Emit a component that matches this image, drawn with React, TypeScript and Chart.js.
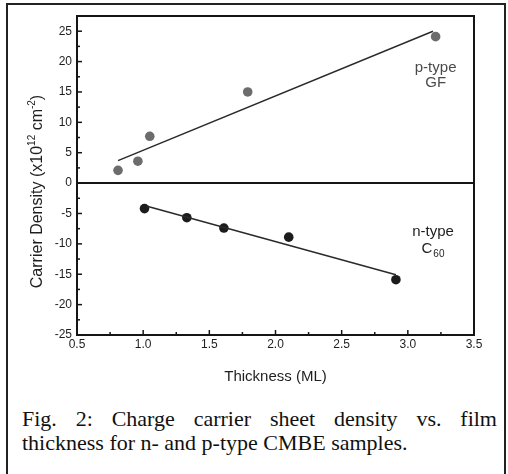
import React, { useEffect, useRef } from "react";
import { Chart, registerables } from "chart.js";

Chart.register(...registerables);

// ---- data ----
const pTypeX = [0.81, 0.96, 1.05, 1.79, 3.21];
const pTypeY = [2.1, 3.6, 7.7, 15.0, 24.1];
const nTypeX = [1.01, 1.33, 1.61, 2.1, 2.91];
const nTypeY = [-4.2, -5.7, -7.4, -8.9, -15.9];
const pFitX = [0.81, 3.19];
const pFitY = [3.7, 25.0];
const nFitX = [1.03, 2.91];
const nFitY = [-3.8, -15.1];

const xMin = 0.5;
const xMax = 3.5;
const xStep = 0.5;
const yMin = -25;
const yMax = 27.5;
const yStep = 5;

const xTitle = "Thickness (ML)";
const yTitleParts = ["Carrier Density (x10", "12", " cm", "-2", ")"];
const pLabel = ["p-type", "GF"];
const nLabel = ["n-type", "C", "60"];
const pLabelX = 3.21;
const pLabelY = [19.0, 16.5];
const nLabelX = 3.19;
const nLabelY = [-8.0, -10.8];

const captionLine1 = "Fig. 2: Charge carrier sheet density vs. film";
const captionLine2 = "thickness for n- and p-type CMBE samples.";

const FONT = "'Liberation Sans', Arial, Helvetica, sans-serif";

const toPts = (xs: number[], ys: number[]) => xs.map((x, i) => ({ x, y: ys[i] }));

const decorPlugin = {
  id: "decor",
  afterDraw(chart: any) {
    const { ctx, chartArea } = chart;
    const xs = chart.scales.x;
    const ys = chart.scales.y;
    const { left, right, top, bottom } = chartArea;
    ctx.save();
    ctx.strokeStyle = "#151515";
    // zero line
    ctx.lineWidth = 2;
    const y0 = ys.getPixelForValue(0);
    ctx.beginPath();
    ctx.moveTo(left, y0);
    ctx.lineTo(right, y0);
    ctx.stroke();
    // ticks (inward)
    ctx.lineWidth = 1.5;
    const xt = xs.ticks.map((t: any) => t.value);
    xt.forEach((v: number, i: number) => {
      const px = xs.getPixelForValue(v);
      ctx.beginPath();
      ctx.moveTo(px, bottom);
      ctx.lineTo(px, bottom - 5);
      ctx.stroke();
      if (i < xt.length - 1) {
        const m = xs.getPixelForValue((v + xt[i + 1]) / 2);
        ctx.beginPath();
        ctx.moveTo(m, bottom);
        ctx.lineTo(m, bottom - 3);
        ctx.stroke();
      }
    });
    const yt = ys.ticks.map((t: any) => t.value);
    yt.forEach((v: number, i: number) => {
      const py = ys.getPixelForValue(v);
      ctx.beginPath();
      ctx.moveTo(left, py);
      ctx.lineTo(left + 5, py);
      ctx.stroke();
      if (i < yt.length - 1) {
        const m = ys.getPixelForValue((v + yt[i + 1]) / 2);
        ctx.beginPath();
        ctx.moveTo(left, m);
        ctx.lineTo(left + 3, m);
        ctx.stroke();
      }
    });
    // frame
    ctx.lineWidth = 2;
    ctx.strokeRect(left, top, right - left, bottom - top);

    // annotations
    ctx.textAlign = "center";
    ctx.textBaseline = "middle";
    ctx.font = `15px ${FONT}`;
    ctx.fillStyle = "#4a4a4a";
    const pxP = xs.getPixelForValue(pLabelX);
    ctx.fillText(pLabel[0], pxP, ys.getPixelForValue(pLabelY[0]));
    ctx.fillText(pLabel[1], pxP, ys.getPixelForValue(pLabelY[1]));
    ctx.fillStyle = "#1e1e1e";
    const pxN = xs.getPixelForValue(nLabelX);
    ctx.fillText(nLabel[0], pxN, ys.getPixelForValue(nLabelY[0]));
    const cW = ctx.measureText(nLabel[1]).width;
    ctx.font = `10px ${FONT}`;
    const sW = ctx.measureText(nLabel[2]).width;
    const startX = pxN - (cW + sW + 1) / 2;
    const cy = ys.getPixelForValue(nLabelY[1]);
    ctx.textAlign = "left";
    ctx.font = `15px ${FONT}`;
    ctx.fillText(nLabel[1], startX, cy);
    ctx.font = `10px ${FONT}`;
    ctx.fillText(nLabel[2], startX + cW + 1, cy + 6);

    // y title with superscripts
    ctx.translate(left - 40, (top + bottom) / 2 + 16);
    ctx.rotate(-Math.PI / 2);
    ctx.textBaseline = "alphabetic";
    ctx.fillStyle = "#1e1e1e";
    const fonts = yTitleParts.map((_, i) => (i % 2 === 1 ? `10px ${FONT}` : `16px ${FONT}`));
    const widths = yTitleParts.map((t, i) => {
      ctx.font = fonts[i];
      return ctx.measureText(t).width;
    });
    const total = widths.reduce((a, b) => a + b, 0);
    let cx = -total / 2;
    yTitleParts.forEach((t, i) => {
      ctx.font = fonts[i];
      ctx.fillText(t, cx, i % 2 === 1 ? -2 : 5);
      cx += widths[i];
    });
    ctx.restore();
  },
};

export default function App() {
  const ref = useRef<HTMLCanvasElement>(null);
  useEffect(() => {
    if (!ref.current) return;
    const chart = new Chart(ref.current, {
      type: "scatter",
      data: {
        datasets: [
          {
            label: "p-type fit",
            data: toPts(pFitX, pFitY),
            showLine: true,
            borderColor: "#2a2a2a",
            borderWidth: 1.5,
            pointRadius: 0,
          },
          {
            label: "n-type fit",
            data: toPts(nFitX, nFitY),
            showLine: true,
            borderColor: "#2a2a2a",
            borderWidth: 1.5,
            pointRadius: 0,
          },
          {
            label: "p-type GF",
            data: toPts(pTypeX, pTypeY),
            backgroundColor: "#6c6c6c",
            borderWidth: 0,
            pointRadius: 4.8,
          },
          {
            label: "n-type C60",
            data: toPts(nTypeX, nTypeY),
            backgroundColor: "#1c1c1c",
            borderWidth: 0,
            pointRadius: 4.8,
          },
        ],
      },
      options: {
        responsive: false,
        animation: false,
        layout: { padding: { top: 16, right: 34, left: 0, bottom: 10 } },
        plugins: { legend: { display: false }, tooltip: { enabled: false } },
        scales: {
          x: {
            type: "linear",
            min: xMin,
            max: xMax,
            grid: { display: false, drawTicks: false },
            border: { display: false },
            ticks: {
              stepSize: xStep,
              padding: 2,
              color: "#1e1e1e",
              font: { family: FONT, size: 12 },
              callback: (v: any) => Number(v).toFixed(1),
            },
            title: {
              display: true,
              text: xTitle,
              color: "#1e1e1e",
              font: { family: FONT, size: 15 },
              padding: { top: 0, bottom: 4 },
            },
            afterFit: (s: any) => {
              s.height = 55;
            },
          },
          y: {
            type: "linear",
            min: yMin,
            max: yMax,
            grid: { display: false, drawTicks: false },
            border: { display: false },
            ticks: {
              stepSize: yStep,
              includeBounds: false,
              padding: 5,
              color: "#1e1e1e",
              font: { family: FONT, size: 12 },
            },
            afterFit: (s: any) => {
              s.width = 77;
            },
          },
        },
      },
      plugins: [decorPlugin],
    } as any);
    return () => chart.destroy();
  }, []);

  return (
    <div
      style={{
        position: "absolute",
        left: 0,
        top: 0,
        width: 508,
        height: 474,
        overflow: "hidden",
        background: "#fff",
      }}
    >
      <div
        style={{
          position: "absolute",
          left: 6,
          top: 3,
          width: 496,
          height: 500,
          border: "2px solid #222",
        }}
      />
      <canvas
        ref={ref}
        width={508}
        height={400}
        style={{ position: "absolute", left: 0, top: 0, width: 508, height: 400 }}
      />
      <div
        style={{
          position: "absolute",
          left: 22,
          top: 407,
          width: 475,
          fontFamily: "'Liberation Serif', 'Times New Roman', serif",
          fontSize: 22,
          lineHeight: "24px",
          color: "#111",
        }}
      >
        <div style={{ textAlign: "justify", textAlignLast: "justify", whiteSpace: "nowrap" as any }}>
          {captionLine1}
        </div>
        <div style={{ textAlign: "left", whiteSpace: "nowrap" }}>{captionLine2}</div>
      </div>
    </div>
  );
}
